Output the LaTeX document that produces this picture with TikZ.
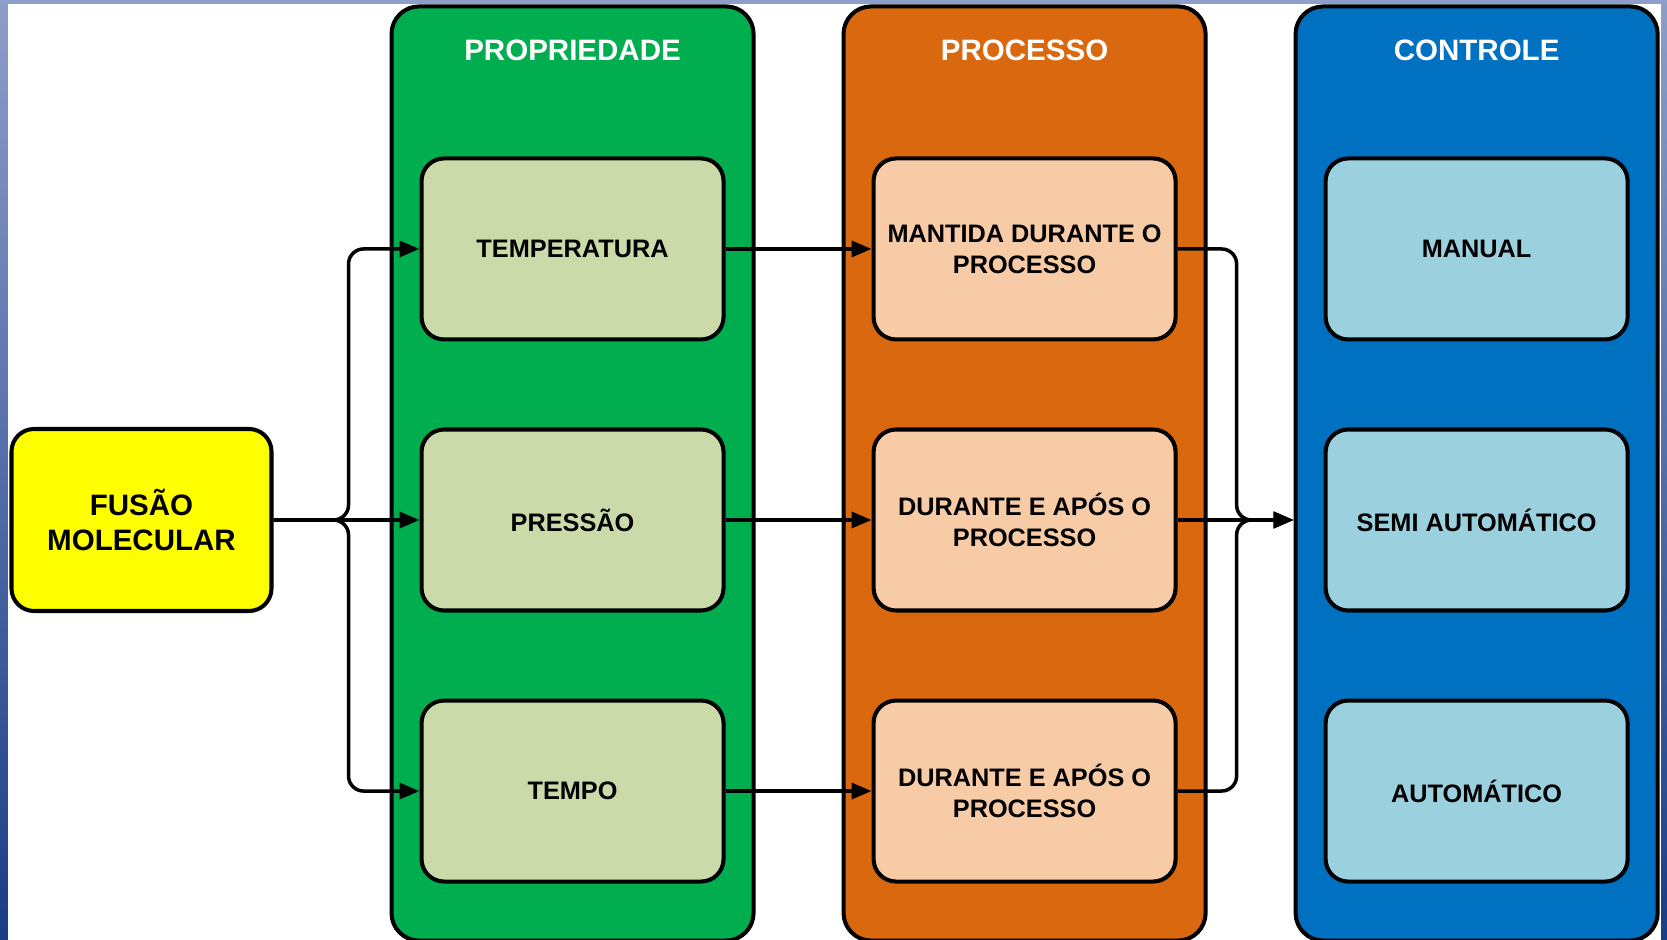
\documentclass[tikz,border=0pt]{standalone}
\usepackage{fontspec}
\setmainfont{Liberation Sans}
\usepackage{tikz}
\usetikzlibrary{arrows.meta,positioning,fit,calc,backgrounds}
\definecolor{deepgreen}{RGB}{0,174,80}
\definecolor{softgreen}{RGB}{203,218,169}
\definecolor{deeporange}{RGB}{217,104,14}
\definecolor{softorange}{RGB}{248,203,167}
\definecolor{deepblue}{RGB}{0,112,192}
\definecolor{softcyan}{RGB}{155,208,222}
\definecolor{softyellow}{RGB}{255,255,0}
\definecolor{frametop}{RGB}{142,158,202}
\definecolor{framebot}{RGB}{26,60,134}

\tikzset{
  caixa/.style={draw, line width=2.3pt, rounded corners=0.45cm, minimum width=6.04cm, minimum height=3.62cm, align=center, font=\fontsize{14.4}{17.6}\selectfont\bfseries},
  coluna/.style={draw, line width=2.3pt, rounded corners=0.55cm, inner sep=0pt},
  titulo/.style={text=white, font=\fontsize{16.8}{20}\selectfont\bfseries},
  seta/.style={line width=2pt, -{Triangle[length=4mm,width=3.2mm]}},
}

\begin{document}
\begin{tikzpicture}
  \useasboundingbox (0,0) rectangle (33.34,-18.8);
  \node[caixa, fill=softyellow, minimum width=5.2cm, minimum height=3.64cm, font=\fontsize{16.8}{19.4}\selectfont\bfseries] (fusao) at (2.83,-10.4) {FUSÃO\\MOLECULAR};

  \node[caixa, fill=softgreen, right=2.92cm of fusao] (pressao) {PRESSÃO};
  \node[caixa, fill=softgreen, above=1.72cm of pressao] (temperatura) {TEMPERATURA};
  \node[caixa, fill=softgreen, below=1.72cm of pressao] (tempo) {TEMPO};

  \node[caixa, fill=softorange, right=2.92cm of temperatura] (mantida) {MANTIDA DURANTE O\\PROCESSO};
  \node[caixa, fill=softorange, right=2.92cm of pressao] (apos1) {DURANTE E APÓS O\\PROCESSO};
  \node[caixa, fill=softorange, right=2.92cm of tempo] (apos2) {DURANTE E APÓS O\\PROCESSO};

  \node[caixa, fill=softcyan, right=2.92cm of mantida] (manual) {MANUAL};
  \node[caixa, fill=softcyan, right=2.92cm of apos1] (semi) {SEMI AUTOMÁTICO};
  \node[caixa, fill=softcyan, right=2.92cm of apos2] (auto) {AUTOMÁTICO};

  \begin{scope}[on background layer]
    \shade[top color=frametop, bottom color=framebot] (0,0) rectangle (33.34,-18.8);
    \fill[white] (0.16,-0.08) rectangle (33.22,-18.8);
    % colunas
    \coordinate (g1) at ($(temperatura.north west)+(-0.56,3.0)$);
    \coordinate (g2) at ($(tempo.south east)+(0.56,-1.14)$);
    \node[coluna, fill=deepgreen, fit=(g1)(g2)] (colprop) {};
    \coordinate (o1) at ($(mantida.north west)+(-0.56,3.0)$);
    \coordinate (o2) at ($(apos2.south east)+(0.56,-1.14)$);
    \node[coluna, fill=deeporange, fit=(o1)(o2)] (colproc) {};
    \coordinate (b1) at ($(manual.north west)+(-0.56,3.0)$);
    \coordinate (b2) at ($(auto.south east)+(0.56,-1.14)$);
    \node[coluna, fill=deepblue, fit=(b1)(b2)] (colctrl) {};
    \node[titulo] at ([yshift=-0.925cm]colprop.north) {PROPRIEDADE};
    \node[titulo] at ([yshift=-0.925cm]colproc.north) {PROCESSO};
    \node[titulo] at ([yshift=-0.925cm]colctrl.north) {CONTROLE};
  \end{scope}

  \draw[seta, rounded corners=0.3cm] (fusao.east) -- ++(1.5,0) |- (temperatura.west);
  \draw[seta] (fusao) -- (pressao);
  \draw[seta, rounded corners=0.3cm] (fusao.east) -- ++(1.5,0) |- (tempo.west);
  \draw[seta] (temperatura) -- (mantida);
  \draw[seta] (pressao) -- (apos1);
  \draw[seta] (tempo) -- (apos2);
  \draw[seta, rounded corners=0.3cm] (mantida.east) -- ++(1.18,0) |- (colctrl.west |- apos1.east);
  \draw[seta] (apos1) -- (colctrl.west |- apos1.east);
  \draw[seta, rounded corners=0.3cm] (apos2.east) -- ++(1.18,0) |- (colctrl.west |- apos1.east);
\end{tikzpicture}
\end{document}
